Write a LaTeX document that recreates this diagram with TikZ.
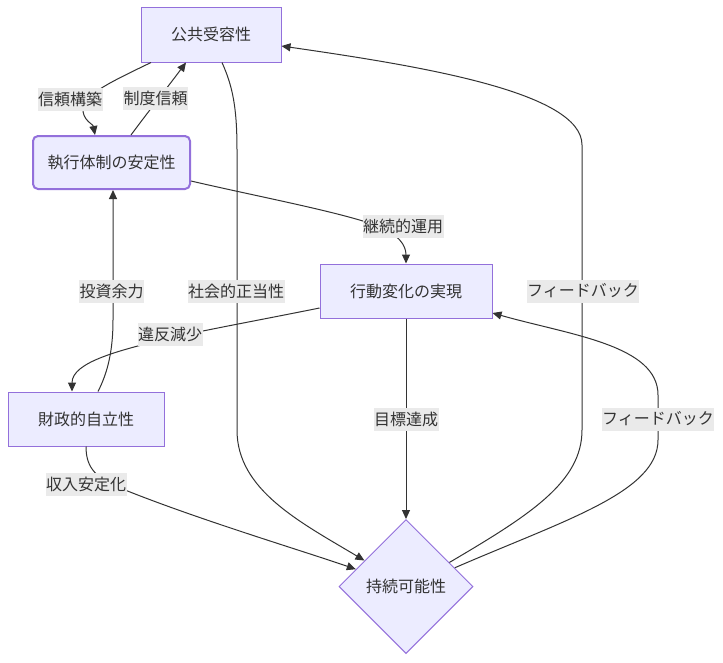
\documentclass[tikz,border=0pt]{standalone}
\usepackage{fontspec}
\newfontfamily\cjk{Noto Sans CJK JP}
\usetikzlibrary{shapes.geometric,arrows.meta}
\definecolor{nodefill}{HTML}{ECECFF}
\definecolor{nodeline}{HTML}{9370DB}
\definecolor{edgecol}{HTML}{333333}
\definecolor{lblfill}{HTML}{EAEAEA}
\definecolor{txtcol}{HTML}{333333}
\tikzset{
  box/.style={draw=nodeline, fill=nodefill, line width=1pt, inner sep=0pt,
    font=\cjk\fontsize{16}{19}\selectfont, text=txtcol},
  roundbox/.style={box, rounded corners=5pt, line width=2pt},
  diam/.style={box, shape=diamond, aspect=1, minimum width=134pt, minimum height=134pt},
  lbl/.style={fill=lblfill, inner xsep=0.5pt, inner ysep=0pt, minimum height=23pt,
    font=\cjk\fontsize{16}{19}\selectfont, text=txtcol},
  edge/.style={draw=edgecol, line width=1pt, -{Triangle[length=9pt,width=8pt]}},
}
\begin{document}
\begin{tikzpicture}[x=1pt,y=-1pt]
\useasboundingbox[fill=white] (0,0) rectangle (723,662);
% nodes
\node[box, minimum width=140pt, minimum height=55pt] (pub) at (211,34.5) {公共受容性};
\node[roundbox, minimum width=157pt, minimum height=53pt] (exe) at (111.5,162.5) {執行体制の安定性};
\node[box, minimum width=172pt, minimum height=54pt] (act) at (406,291) {行動変化の実現};
\node[box, minimum width=156pt, minimum height=54pt] (fin) at (86,419) {財政的自立性};
\node[diam] (sus) at (406,586.5) {持続可能性};
% edges
\draw[edge] ([xshift=-60pt]pub.south) .. controls (115,80) and (84,94) .. (83,108)
   .. controls (82,120) and (93,124) .. ([xshift=-16.5pt]exe.north);
\draw[edge] ([xshift=19.5pt]exe.north) .. controls (148,112) and (170,84) .. ([xshift=-25pt]pub.south);
\draw[edge] ([xshift=11pt]pub.south) .. controls (232,85) and (237,105) .. (237,150)
   -- (237,430) .. controls (237,490) and (300,522) .. (sus.148.8);
\draw[edge] ([yshift=-18.5pt]exe.east) .. controls (260,197) and (340,212) .. (378,226)
   .. controls (398,234) and (406,245) .. (act.north);
\draw[edge] ([xshift=12pt]fin.north) .. controls (108,372) and (113,350) .. (113,320)
   -- ([xshift=1.5pt]exe.south);
\draw[edge] ([yshift=-17pt]act.west) .. controls (260,320) and (205,330) .. (170,338)
   .. controls (120,350) and (72,362) .. ([xshift=-14pt]fin.north);
\draw[edge] (fin.south) .. controls (86,468) and (96,479) .. (125,490)
   .. controls (200,520) and (300,550) .. (sus.161.6);
\draw[edge] (act.south) -- (sus.north);
\draw[edge] (sus.29.7) .. controls (530,515) and (582,482) .. (582,430)
   -- (582,145) .. controls (582,92) and (420,66) .. ([yshift=-11.5pt]pub.east);
\draw[edge] (sus.21.2) .. controls (565,520) and (658,492) .. (658,440)
   -- (658,395) .. controls (658,345) and (570,335) .. ([yshift=-22pt]act.east);
% labels
\node[lbl] (l1) at (70,99.5) {信頼構築};
\node[lbl] (l2) at (155.5,98.5) {制度信頼};
\node[lbl] (l3) at (236,291) {社会的正当性};
\node[lbl] (l4) at (403,226) {継続的運用};
\node[lbl] (l5) at (111.5,291) {投資余力};
\node[lbl] (l6) at (170,334) {違反減少};
\node[lbl] (l7) at (86,484) {収入安定化};
\node[lbl] (l8) at (406,419) {目標達成};
\node[lbl] (l9) at (583,291) {フィードバック};
\node[lbl] (l10) at (658,419) {フィードバック};
\end{tikzpicture}
\end{document}
